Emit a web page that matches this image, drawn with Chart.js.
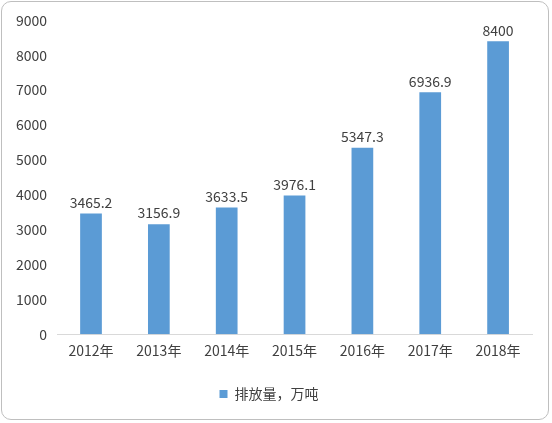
<!DOCTYPE html>
<html><head><meta charset="utf-8">
<script src="https://cdn.jsdelivr.net/npm/chart.js@4"></script>
<style>
html,body{margin:0;padding:0;background:#fff;}
#wrap{position:absolute;left:1px;top:1px;width:548px;height:419px;border:1px solid #bfbfbf;border-radius:10px;box-sizing:border-box;overflow:hidden;}
canvas{display:block;}
</style></head><body>
<div id="wrap"><canvas id="c"></canvas></div>
<script>
const categories=["2012年","2013年","2014年","2015年","2016年","2017年","2018年"];
const values=[3465.2,3156.9,3633.5,3976.1,5347.3,6936.9,8400];
const seriesName="排放量，万吨";
const font="'Noto Sans CJK SC','Noto Sans',sans-serif";
const labelPlugin={id:'lbl',afterDatasetsDraw(chart){
 const ctx=chart.ctx;const meta=chart.getDatasetMeta(0);
 ctx.save();ctx.font="14px "+font;ctx.fillStyle="#404040";ctx.textAlign="center";ctx.textBaseline="bottom";
 meta.data.forEach((b,i)=>ctx.fillText(String(values[i]),b.x,b.y-4));ctx.restore();}};
new Chart(document.getElementById('c'),{type:'bar',
data:{labels:categories,datasets:[{label:seriesName,data:values,backgroundColor:'#5B9BD5',barPercentage:0.32,categoryPercentage:1}]},
options:{responsive:true,maintainAspectRatio:false,animation:false,
 layout:{padding:{left:4,right:16,top:6,bottom:8}},
 plugins:{legend:{position:'bottom',labels:{font:{family:font,size:14},color:'#404040',boxWidth:8,boxHeight:8,padding:20}},tooltip:{enabled:false}},
 scales:{x:{grid:{display:false,drawTicks:false},border:{color:'#d9d9d9'},ticks:{font:{family:font,size:14},color:'#404040',padding:8}},
 y:{min:0,max:9000,grid:{display:false,drawTicks:false},border:{display:false},ticks:{stepSize:1000,callback:v=>String(v),font:{family:font,size:14},color:'#404040',padding:10}}}},
plugins:[labelPlugin]});
</script></body></html>
